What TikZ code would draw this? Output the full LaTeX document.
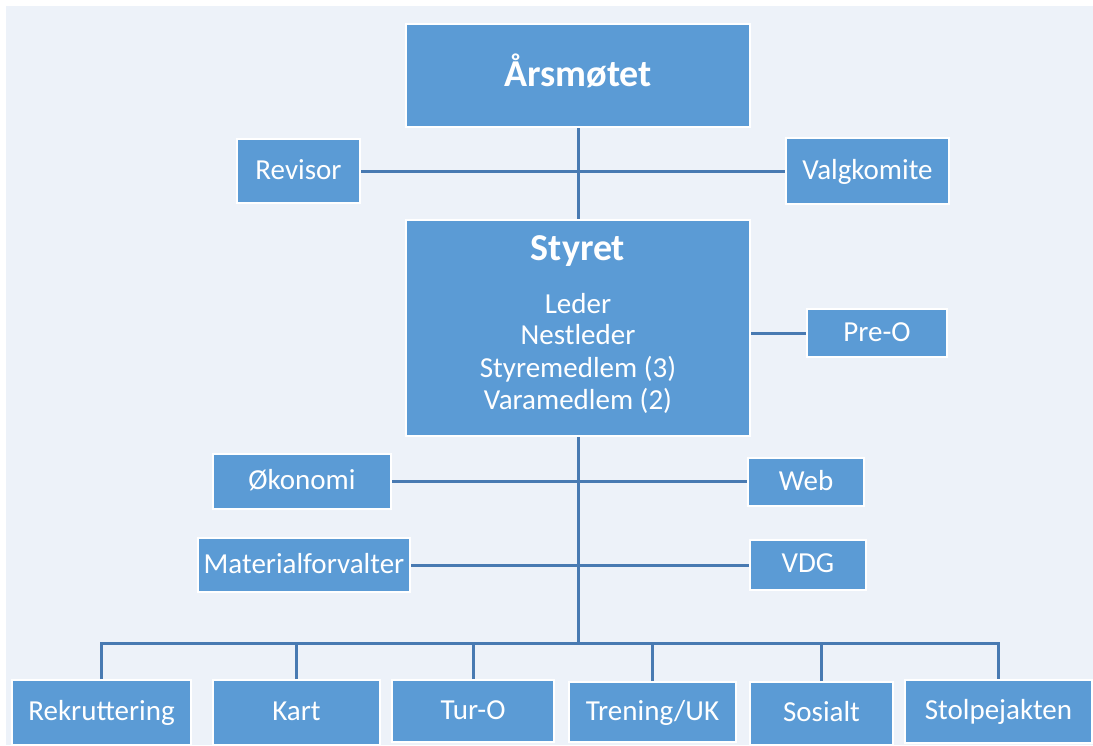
\documentclass[tikz,border=0pt]{standalone}
\usepackage{fontspec}
\setmainfont{Carlito}

\definecolor{boxblue}{RGB}{91,155,213}
\definecolor{linkblue}{RGB}{72,122,178}
\definecolor{panel}{RGB}{237,242,249}

\tikzset{
  unittext/.style={text=white, inner sep=0pt,
    font=\fontsize{29}{32}\selectfont},
  headtext/.style={text=white, inner sep=0pt,
    font=\fontsize{38}{44}\selectfont\bfseries},
  unit/.style={unittext, draw=white, line width=2pt, fill=boxblue,
    text height=23pt, text depth=7pt},
  headunit/.style={unit, headtext, text height=30pt, text depth=9pt},
  link/.style={draw=linkblue, line width=3pt}
}

\begin{document}
\begin{tikzpicture}[x=1pt, y=-1pt]
    \useasboundingbox (0,0) rectangle (1093,745);
    \fill [white] (0,0) rectangle (1093,745);
    \fill [panel] (6,6) rectangle (1093,745);

    % top level
    \node [headunit, minimum width=344, minimum height=103] (aarsmote) at (578,75.5) {Årsmøtet};

    \node [unit, minimum width=123, minimum height=64] (revisor) at (298.5,171) {Revisor};

    \node [unit, minimum width=163, minimum height=66] (valgkomite) at (867.5,171) {Valgkomite};

    % board
    \node [unit, minimum width=344, minimum height=216] (styret) at (578,328) {};

    \node [headtext, anchor=base] (styretname) at (578,260) {Styret};

    \node [unittext, anchor=base] (leder) at (578,313) {Leder};

    \node [unittext, anchor=base] (nestleder) at (578,344) {Nestleder};

    \node [unittext, anchor=base] (styremedlem) at (578,377) {Styremedlem (3)};

    \node [unittext, anchor=base] (varamedlem) at (578,409) {Varamedlem (2)};

    \node [unit, minimum width=140, minimum height=48] (preo) at (877,333) {Pre-O};

    % functions under the board
    \node [unit, minimum width=178, minimum height=55] (okonomi) at (302,481) {Økonomi};

    \node [unit, minimum width=116, minimum height=48] (web) at (806,482) {Web};

    \node [unit, minimum width=212, minimum height=54] (material) at (304,565) {Materialforvalter};

    \node [unit, minimum width=116, minimum height=50] (vdg) at (808,564.5) {VDG};

    % committees
    \node [unit, minimum width=179, minimum height=65] (rekruttering) at (101.5,712.5) {Rekruttering};

    \node [unit, minimum width=167, minimum height=65] (kart) at (296.5,712.5) {Kart};

    \node [unit, minimum width=162, minimum height=62] (turo) at (473,711) {Tur-O};

    \node [unit, minimum width=167, minimum height=60] (trening) at (652.5,712) {Trening/UK};

    \node [unit, minimum width=143, minimum height=63] (sosialt) at (821.5,713.5) {Sosialt};

    \node [unit, minimum width=187, minimum height=63] (stolpejakten) at (998.5,711.5) {Stolpejakten};

    \coordinate (bus) at (578,643);

    % connectors
    \draw [link] (aarsmote) -- (styret);

    \draw [link] (revisor) -- (valgkomite);

    \draw [link] (styret.east |- preo) -- (preo);

    \draw [link] (styret) -- (bus);

    \draw [link] (okonomi.east) -- (okonomi.east -| web.west);

    \draw [link] (material.east) -- (material.east -| vdg.west);

    \draw [link] (rekruttering.north) |- (bus) -| (stolpejakten.north);

    \draw [link] (kart.north) -- (kart.north |- bus);

    \draw [link] (turo.north) -- (turo.north |- bus);

    \draw [link] (trening.north) -- (trening.north |- bus);

    \draw [link] (sosialt.north) -- (sosialt.north |- bus);

  \end{tikzpicture}
\end{document}
